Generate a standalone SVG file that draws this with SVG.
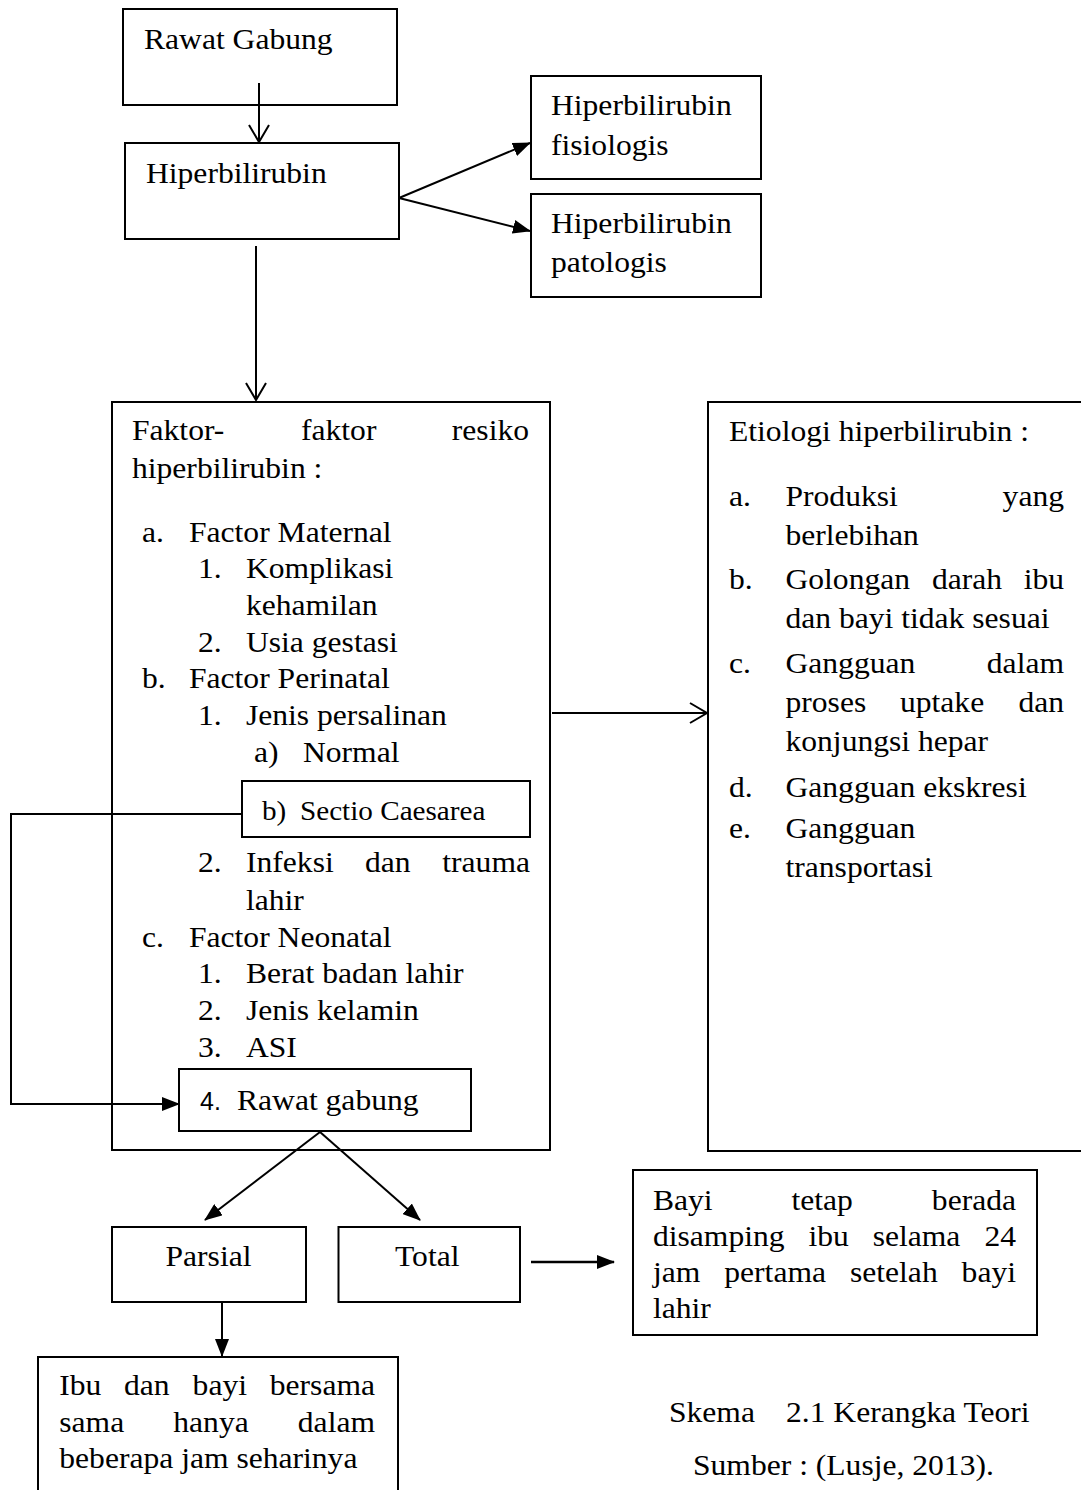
<svg xmlns="http://www.w3.org/2000/svg" width="1081" height="1490" viewBox="0 0 1081 1490">
<style>
  rect.box { fill: #ffffff; stroke: #000000; stroke-width: 2; }
  text { font-family: "Liberation Serif", "Times New Roman", serif; font-size: 30px; fill: #000000; }
  text.sm { font-size: 27.7px; }
  text.sans { font-family: "Liberation Sans", Arial, sans-serif; font-size: 25px; }
  text.e { text-anchor: end; }
  .c { fill: none; stroke: #000000; stroke-width: 2; }
  .c.thick { stroke-width: 2.6; }
</style>
<defs>
  <marker id="open" markerUnits="userSpaceOnUse" markerWidth="20" markerHeight="22" viewBox="0 0 20 22" refX="18" refY="11" orient="auto">
    <path d="M1,1 L18,11 L1,21" fill="none" stroke="#000000" stroke-width="2"/>
  </marker>
  <marker id="fill" markerUnits="userSpaceOnUse" markerWidth="18" markerHeight="14" viewBox="0 0 18 14" refX="17" refY="7" orient="auto">
    <path d="M0,0 L18,7 L0,14 z" fill="#000000"/>
  </marker>
</defs>
<rect width="1081" height="1490" fill="#ffffff"/>

<g id="n-rawat-gabung">
  <rect class="box" x="123" y="9" width="274" height="96"/>
  <text transform="matrix(1.053 0 0 1 144 49)">Rawat Gabung</text>
</g>
<g id="n-hiperbilirubin">
  <rect class="box" x="125" y="143" width="274" height="96"/>
  <text transform="matrix(1.053 0 0 1 146 183)">Hiperbilirubin</text>
</g>
<g id="n-fisiologis">
  <rect class="box" x="531" y="76" width="230" height="103"/>
  <text transform="matrix(1.053 0 0 1 551 115)">Hiperbilirubin</text>
  <text transform="matrix(1.053 0 0 1 551 155)">fisiologis</text>
</g>
<g id="n-patologis">
  <rect class="box" x="531" y="194" width="230" height="103"/>
  <text transform="matrix(1.053 0 0 1 551 233)">Hiperbilirubin</text>
  <text transform="matrix(1.053 0 0 1 551 272)">patologis</text>
</g>

<g id="n-faktor">
  <rect class="box" x="112" y="402" width="438" height="748"/>
  <text transform="matrix(1.053 0 0 1 132 440)">Faktor-</text>
  <text transform="matrix(1.053 0 0 1 301 440)">faktor</text>
  <text class="e" transform="matrix(1.053 0 0 1 529 440)">resiko</text>
  <text transform="matrix(1.053 0 0 1 132 478)">hiperbilirubin :</text>
  <text transform="matrix(1.053 0 0 1 142 542)">a.</text>
  <text transform="matrix(1.053 0 0 1 189 542)">Factor Maternal</text>
  <text transform="matrix(1.053 0 0 1 198 578)">1.</text>
  <text transform="matrix(1.053 0 0 1 246 578)">Komplikasi</text>
  <text transform="matrix(1.053 0 0 1 246 615)">kehamilan</text>
  <text transform="matrix(1.053 0 0 1 198 652)">2.</text>
  <text transform="matrix(1.053 0 0 1 246 652)">Usia gestasi</text>
  <text transform="matrix(1.053 0 0 1 142 688)">b.</text>
  <text transform="matrix(1.053 0 0 1 189 688)">Factor Perinatal</text>
  <text transform="matrix(1.053 0 0 1 198 725)">1.</text>
  <text transform="matrix(1.053 0 0 1 246 725)">Jenis persalinan</text>
  <text transform="matrix(1.053 0 0 1 254 762)">a)</text>
  <text transform="matrix(1.053 0 0 1 303 762)">Normal</text>
  <text transform="matrix(1.053 0 0 1 198 872)">2.</text>
  <text transform="matrix(1.053 0 0 1 246 872)">Infeksi</text>
  <text transform="matrix(1.053 0 0 1 365 872)">dan</text>
  <text class="e" transform="matrix(1.053 0 0 1 530 872)">trauma</text>
  <text transform="matrix(1.053 0 0 1 246 910)">lahir</text>
  <text transform="matrix(1.053 0 0 1 142 947)">c.</text>
  <text transform="matrix(1.053 0 0 1 189 947)">Factor Neonatal</text>
  <text transform="matrix(1.053 0 0 1 198 983)">1.</text>
  <text transform="matrix(1.053 0 0 1 246 983)">Berat badan lahir</text>
  <text transform="matrix(1.053 0 0 1 198 1020)">2.</text>
  <text transform="matrix(1.053 0 0 1 246 1020)">Jenis kelamin</text>
  <text transform="matrix(1.053 0 0 1 198 1057)">3.</text>
  <text transform="matrix(1.053 0 0 1 246 1057)">ASI</text>
</g>
<g id="n-sectio">
  <rect class="box" x="242" y="781" width="288" height="56"/>
  <text class="sm" transform="matrix(1.053 0 0 1 262 820)">b)</text>
  <text class="sm" transform="matrix(1.053 0 0 1 300 820)">Sectio Caesarea</text>
</g>
<g id="n-rawat-gabung-4">
  <rect class="box" x="179" y="1069" width="292" height="62"/>
  <text class="sans" x="200" y="1110">4.</text>
  <text transform="matrix(1.053 0 0 1 237 1110)">Rawat gabung</text>
</g>

<g id="n-etiologi">
  <rect class="box" x="708" y="402" width="400" height="749"/>
  <text transform="matrix(1.053 0 0 1 729 441)">Etiologi hiperbilirubin :</text>
  <text transform="matrix(1.053 0 0 1 729 506)">a.</text>
  <text transform="matrix(1.053 0 0 1 785.5 506)">Produksi</text>
  <text class="e" transform="matrix(1.053 0 0 1 1064 506)">yang</text>
  <text transform="matrix(1.053 0 0 1 785.5 545)">berlebihan</text>
  <text transform="matrix(1.053 0 0 1 729 589)">b.</text>
  <text transform="matrix(1.053 0 0 1 785.5 589)">Golongan</text>
  <text transform="matrix(1.053 0 0 1 932 589)">darah</text>
  <text class="e" transform="matrix(1.053 0 0 1 1064 589)">ibu</text>
  <text transform="matrix(1.053 0 0 1 785.5 628)">dan bayi tidak sesuai</text>
  <text transform="matrix(1.053 0 0 1 729 673)">c.</text>
  <text transform="matrix(1.053 0 0 1 785.5 673)">Gangguan</text>
  <text class="e" transform="matrix(1.053 0 0 1 1064 673)">dalam</text>
  <text transform="matrix(1.053 0 0 1 785.5 712)">proses</text>
  <text transform="matrix(1.053 0 0 1 900 712)">uptake</text>
  <text class="e" transform="matrix(1.053 0 0 1 1064 712)">dan</text>
  <text transform="matrix(1.053 0 0 1 785.5 751)">konjungsi hepar</text>
  <text transform="matrix(1.053 0 0 1 729 797)">d.</text>
  <text transform="matrix(1.053 0 0 1 785.5 797)">Gangguan ekskresi</text>
  <text transform="matrix(1.053 0 0 1 729 838)">e.</text>
  <text transform="matrix(1.053 0 0 1 785.5 838)">Gangguan</text>
  <text transform="matrix(1.053 0 0 1 785.5 877)">transportasi</text>
</g>

<g id="n-parsial">
  <rect class="box" x="112" y="1227" width="194" height="75"/>
  <text transform="matrix(1.053 0 0 1 165.5 1266)">Parsial</text>
</g>
<g id="n-total">
  <rect class="box" x="338.5" y="1227" width="181.5" height="75"/>
  <text transform="matrix(1.053 0 0 1 395 1266)">Total</text>
</g>
<g id="n-bayi">
  <rect class="box" x="633" y="1170" width="404" height="165"/>
  <text transform="matrix(1.053 0 0 1 653 1210)">Bayi</text>
  <text transform="matrix(1.053 0 0 1 791.5 1210)">tetap</text>
  <text class="e" transform="matrix(1.053 0 0 1 1016 1210)">berada</text>
  <text transform="matrix(1.053 0 0 1 653 1246)">disamping</text>
  <text transform="matrix(1.053 0 0 1 808.5 1246)">ibu</text>
  <text transform="matrix(1.053 0 0 1 872.7 1246)">selama</text>
  <text class="e" transform="matrix(1.053 0 0 1 1016 1246)">24</text>
  <text transform="matrix(1.053 0 0 1 653 1282)">jam</text>
  <text transform="matrix(1.053 0 0 1 724.3 1282)">pertama</text>
  <text transform="matrix(1.053 0 0 1 850 1282)">setelah</text>
  <text class="e" transform="matrix(1.053 0 0 1 1016 1282)">bayi</text>
  <text transform="matrix(1.053 0 0 1 653 1318)">lahir</text>
</g>
<g id="n-ibu">
  <rect class="box" x="38" y="1357" width="360" height="150"/>
  <text transform="matrix(1.053 0 0 1 59.3 1394.5)">Ibu</text>
  <text transform="matrix(1.053 0 0 1 124 1394.5)">dan</text>
  <text transform="matrix(1.053 0 0 1 192.6 1394.5)">bayi</text>
  <text class="e" transform="matrix(1.053 0 0 1 375 1394.5)">bersama</text>
  <text transform="matrix(1.053 0 0 1 59.3 1431.5)">sama</text>
  <text transform="matrix(1.053 0 0 1 173.3 1431.5)">hanya</text>
  <text class="e" transform="matrix(1.053 0 0 1 375 1431.5)">dalam</text>
  <text transform="matrix(1.053 0 0 1 59.3 1468)">beberapa jam seharinya</text>
</g>

<g id="caption">
  <text transform="matrix(1.053 0 0 1 669 1422)">Skema</text>
  <text transform="matrix(1.053 0 0 1 786 1422)">2.1 Kerangka Teori</text>
  <text transform="matrix(1.053 0 0 1 693 1475)">Sumber : (Lusje, 2013).</text>
</g>

<g id="connectors">
  <line class="c" x1="259" y1="83" x2="259" y2="142" marker-end="url(#open)"/>
  <line class="c" x1="256" y1="246" x2="256" y2="400" marker-end="url(#open)"/>
  <line class="c" x1="399" y1="198" x2="530" y2="143" marker-end="url(#fill)"/>
  <line class="c" x1="399" y1="198" x2="530" y2="231" marker-end="url(#fill)"/>
  <line class="c" x1="552" y1="713" x2="707" y2="713" marker-end="url(#open)"/>
  <polyline class="c" points="242,814 11,814 11,1104 179,1104" marker-end="url(#fill)"/>
  <line class="c" x1="320" y1="1132" x2="205" y2="1220" marker-end="url(#fill)"/>
  <line class="c" x1="320" y1="1132" x2="420" y2="1220" marker-end="url(#fill)"/>
  <line class="c thick" x1="531" y1="1262" x2="614" y2="1262" marker-end="url(#fill)"/>
  <line class="c" x1="222" y1="1302" x2="222" y2="1356" marker-end="url(#fill)"/>
</g>
</svg>
